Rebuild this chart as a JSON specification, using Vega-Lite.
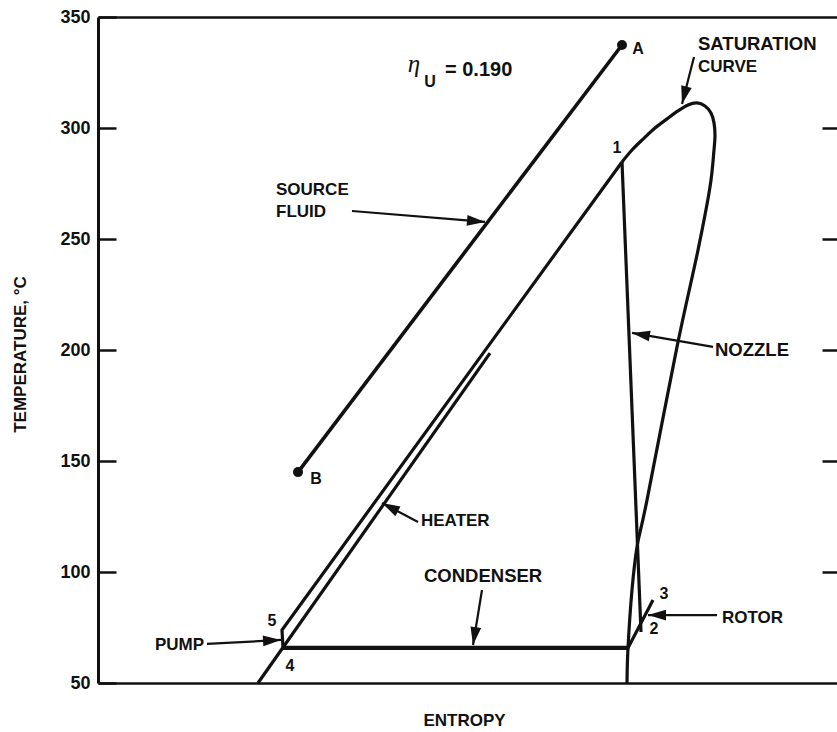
{
  "$schema": "https://vega.github.io/schema/vega-lite/v6.json",
  "width": 739,
  "height": 666,
  "autosize": "none",
  "padding": {"left": 98, "top": 17, "right": 0, "bottom": 49},
  "background": "white",
  "config": {
    "view": {"stroke": null},
    "font": "Liberation Sans",
    "axis": {"labelFont": "Liberation Sans", "titleFont": "Liberation Sans", "grid": false}
  },
  "datasets": {
    "curves": [
      {"series": "liquid", "ord": 1, "s": 160, "T": 50},
      {"series": "liquid", "ord": 2, "s": 392, "T": 198.6},
      {"series": "cycle", "ord": 1, "s": 555, "T": 87.4},
      {"series": "cycle", "ord": 2, "s": 530, "T": 65.8},
      {"series": "cycle", "ord": 3, "s": 185, "T": 65.8},
      {"series": "cycle", "ord": 4, "s": 184, "T": 73.9},
      {"series": "cycle", "ord": 5, "s": 524, "T": 284.7},
      {"series": "nozzle", "ord": 1, "s": 524, "T": 284.7},
      {"series": "nozzle", "ord": 2, "s": 543, "T": 73.0}
    ],
    "condenser": [
      {"s": 185, "T": 65.8},
      {"s": 530, "T": 65.8}
    ],
    "dome": [
      {"ord": 1, "s": 524, "T": 284.7},
      {"ord": 2, "s": 534, "T": 290.1},
      {"ord": 3, "s": 545, "T": 295.0},
      {"ord": 4, "s": 557, "T": 300.0},
      {"ord": 5, "s": 569, "T": 304.1},
      {"ord": 6, "s": 580, "T": 307.7},
      {"ord": 7, "s": 590, "T": 310.4},
      {"ord": 8, "s": 599, "T": 311.3},
      {"ord": 9, "s": 607, "T": 309.9},
      {"ord": 10, "s": 613, "T": 306.8},
      {"ord": 11, "s": 616, "T": 302.3},
      {"ord": 12, "s": 617, "T": 296.8},
      {"ord": 13, "s": 616, "T": 290.1},
      {"ord": 14, "s": 612, "T": 273.4},
      {"ord": 15, "s": 600, "T": 245.0},
      {"ord": 16, "s": 579, "T": 201.4},
      {"ord": 17, "s": 549, "T": 132.4},
      {"ord": 18, "s": 539, "T": 111.3},
      {"ord": 19, "s": 534, "T": 91.9},
      {"ord": 20, "s": 530, "T": 65.8},
      {"ord": 21, "s": 529, "T": 50}
    ],
    "source": [
      {"point": "B", "s": 200, "T": 145.0},
      {"point": "A", "s": 524, "T": 337.4}
    ],
    "arrows": [
      {"id": "source", "s1": 254, "T1": 262.6, "s2": 387, "T2": 257.7, "angle": 94.7},
      {"id": "saturation", "s1": 596, "T1": 332.0, "s2": 584, "T2": 310.8, "angle": 194.3},
      {"id": "nozzle", "s1": 615, "T1": 201.4, "s2": 534, "T2": 207.7, "angle": 279.8},
      {"id": "rotor", "s1": 619, "T1": 80.6, "s2": 550, "T2": 80.6, "angle": 270},
      {"id": "heater", "s1": 320, "T1": 122.5, "s2": 284, "T2": 131.1, "angle": 297.8},
      {"id": "condenser", "s1": 384, "T1": 91.9, "s2": 375, "T2": 67.1, "angle": 189.1},
      {"id": "pump", "s1": 109, "T1": 67.6, "s2": 183, "T2": 69.4, "angle": 86.9}
    ],
    "labels": [
      {"text": "SOURCE", "s": 178, "T": 272.1},
      {"text": "FLUID", "s": 178, "T": 262.2},
      {"text": "CURVE", "s": 600, "T": 327.5},
      {"text": "ROTOR", "s": 624, "T": 79.3},
      {"text": "HEATER", "s": 323, "T": 123.0},
      {"text": "PUMP", "s": 57, "T": 67.1}
    ],
    "biglabels": [
      {"text": "SATURATION", "s": 600, "T": 337.8},
      {"text": "NOZZLE", "s": 617, "T": 200.0},
      {"text": "CONDENSER", "s": 326, "T": 98.2}
    ],
    "eq": [
      {"text": "= 0.190", "s": 347, "T": 326.1}
    ],
    "points": [
      {"text": "1", "s": 519, "T": 291.0},
      {"text": "2", "s": 556, "T": 74.3},
      {"text": "3", "s": 566, "T": 90.1},
      {"text": "4", "s": 192, "T": 57.7},
      {"text": "5", "s": 174, "T": 77.9},
      {"text": "A", "s": 540, "T": 335.6},
      {"text": "B", "s": 218, "T": 141.9},
      {"text": "U", "s": 332, "T": 320.7}
    ],
    "eta": [
      {"text": "η", "s": 316, "T": 325.2}
    ]
  },
  "layer": [
    {
      "data": {"name": "curves"},
      "mark": {"type": "line", "color": "#111", "strokeWidth": 3.2, "strokeJoin": "miter"},
      "encoding": {
        "x": {"field": "s", "type": "quantitative", "scale": {"domain": [0, 739], "nice": false, "zero": false},
          "axis": {"orient": "bottom", "title": "ENTROPY", "ticks": false, "labels": false, "domainColor": "#111", "domainWidth": 2.5,
            "titleX": 366, "titleY": 37, "titleFontSize": 17, "titleFontWeight": "bold", "titleColor": "#111", "titleBaseline": "middle", "titleAlign": "center"}},
        "y": {"field": "T", "type": "quantitative", "scale": {"domain": [50, 350], "nice": false, "zero": false},
          "axis": {"orient": "left", "title": "TEMPERATURE, °C", "values": [50, 100, 150, 200, 250, 300, 350], "tickSize": -18, "tickWidth": 2.5, "tickColor": "#111",
            "labelPadding": 26, "labelFlush": false, "labelFontSize": 18, "labelFontWeight": "bold", "labelColor": "#111", "domainColor": "#111", "domainWidth": 3,
            "titleX": -78, "titleY": 337, "titleAngle": -90, "titleAlign": "center", "titleBaseline": "middle", "titleFontSize": 17, "titleFontWeight": "bold", "titleColor": "#111"}},
        "detail": {"field": "series"},
        "order": {"field": "ord"}
      }
    },
    {
      "data": {"name": "dome"},
      "mark": {"type": "line", "color": "#111", "strokeWidth": 3.2, "interpolate": "cardinal"},
      "encoding": {
        "x": {"field": "s", "type": "quantitative", "scale": {"domain": [0, 739], "nice": false, "zero": false},
          "axis": {"orient": "top", "title": null, "ticks": false, "labels": false, "domainColor": "#111", "domainWidth": 2.5}},
        "y": {"field": "T", "type": "quantitative", "scale": {"domain": [50, 350], "nice": false, "zero": false},
          "axis": {"orient": "right", "title": null, "labels": false, "domain": false, "values": [100, 150, 200, 250, 300], "tickSize": -15, "tickWidth": 2.5, "tickColor": "#111"}},
        "order": {"field": "ord"}
      }
    },
    {
      "data": {"name": "condenser"},
      "mark": {"type": "line", "color": "#111", "strokeWidth": 4.2},
      "encoding": {
        "x": {"field": "s", "type": "quantitative", "axis": null},
        "y": {"field": "T", "type": "quantitative", "axis": null}
      }
    },
    {
      "data": {"name": "source"},
      "mark": {"type": "line", "color": "#111", "strokeWidth": 3.6},
      "encoding": {
        "x": {"field": "s", "type": "quantitative", "axis": null},
        "y": {"field": "T", "type": "quantitative", "axis": null}
      }
    },
    {
      "data": {"name": "source"},
      "mark": {"type": "point", "filled": true, "color": "#111", "size": 100, "opacity": 1},
      "encoding": {
        "x": {"field": "s", "type": "quantitative", "axis": null},
        "y": {"field": "T", "type": "quantitative", "axis": null}
      }
    },
    {
      "data": {"name": "arrows"},
      "mark": {"type": "rule", "color": "#111", "strokeWidth": 2.2},
      "encoding": {
        "x": {"field": "s1", "type": "quantitative", "axis": null},
        "y": {"field": "T1", "type": "quantitative", "axis": null},
        "x2": {"field": "s2"},
        "y2": {"field": "T2"}
      }
    },
    {
      "data": {"name": "arrows"},
      "mark": {"type": "point", "filled": true, "color": "#111", "opacity": 1, "size": 324, "shape": "M0,0L0.6,2L-0.6,2Z"},
      "encoding": {
        "x": {"field": "s2", "type": "quantitative", "axis": null},
        "y": {"field": "T2", "type": "quantitative", "axis": null},
        "angle": {"field": "angle", "type": "quantitative", "scale": null}
      }
    },
    {
      "data": {"name": "labels"},
      "mark": {"type": "text", "align": "left", "baseline": "middle", "fontSize": 17, "fontWeight": "bold", "color": "#111", "font": "Liberation Sans"},
      "encoding": {
        "x": {"field": "s", "type": "quantitative", "axis": null},
        "y": {"field": "T", "type": "quantitative", "axis": null},
        "text": {"field": "text"}
      }
    },
    {
      "data": {"name": "biglabels"},
      "mark": {"type": "text", "align": "left", "baseline": "middle", "fontSize": 18.5, "fontWeight": "bold", "color": "#111", "font": "Liberation Sans"},
      "encoding": {
        "x": {"field": "s", "type": "quantitative", "axis": null},
        "y": {"field": "T", "type": "quantitative", "axis": null},
        "text": {"field": "text"}
      }
    },
    {
      "data": {"name": "eq"},
      "mark": {"type": "text", "align": "left", "baseline": "middle", "fontSize": 20, "fontWeight": "bold", "color": "#111", "font": "Liberation Sans"},
      "encoding": {
        "x": {"field": "s", "type": "quantitative", "axis": null},
        "y": {"field": "T", "type": "quantitative", "axis": null},
        "text": {"field": "text"}
      }
    },
    {
      "data": {"name": "points"},
      "mark": {"type": "text", "align": "center", "baseline": "middle", "fontSize": 16, "fontWeight": "bold", "color": "#111", "font": "Liberation Sans"},
      "encoding": {
        "x": {"field": "s", "type": "quantitative", "axis": null},
        "y": {"field": "T", "type": "quantitative", "axis": null},
        "text": {"field": "text"}
      }
    },
    {
      "data": {"name": "eta"},
      "mark": {"type": "text", "align": "center", "baseline": "alphabetic", "fontSize": 25, "color": "#111", "font": "Liberation Serif", "fontStyle": "italic"},
      "encoding": {
        "x": {"field": "s", "type": "quantitative", "axis": null},
        "y": {"field": "T", "type": "quantitative", "axis": null},
        "text": {"field": "text"}
      }
    }
  ],
  "resolve": {"axis": {"x": "independent", "y": "independent"}}
}
